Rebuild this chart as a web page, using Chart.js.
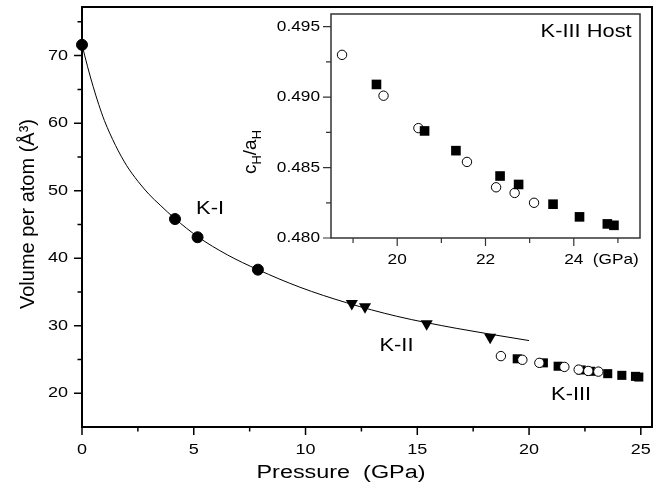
<!DOCTYPE html>
<html>
<head>
<meta charset="utf-8">
<script src="https://cdn.jsdelivr.net/npm/chart.js@4.4.1/dist/chart.umd.min.js"></script>
<style>
  body { margin: 0; background: #fff; }
  #wrap { position: relative; width: 670px; height: 495px; }
  #mainChart { position: absolute; left: 0; top: 0; }
  #insetChart { position: absolute; left: 240px; top: 0; }
</style>
</head>
<body>
<div id="wrap">
  <canvas id="mainChart" width="670" height="495"></canvas>
  <canvas id="insetChart" width="410" height="280"></canvas>
</div>
<script>
// ---- main panel: volume per atom vs pressure ----
const kIPressure = [0, 4.16, 5.17, 7.87];
const kIVolume = [71.6, 45.8, 43.1, 38.3];

const kIIPressure = [12.07, 12.66, 15.42, 18.26];
const kIIVolume = [33.3, 32.8, 30.3, 28.3];

const kIIIOpenPressure = [18.74, 19.70, 20.46, 21.58, 22.22, 22.65, 23.10];
const kIIIOpenVolume = [25.5, 24.95, 24.5, 23.9, 23.5, 23.3, 23.2];

const kIIISquarePressure = [19.47, 20.64, 21.30, 22.33, 22.75, 23.52, 24.15, 24.76, 24.91];
const kIIISquareVolume = [25.1, 24.5, 24.0, 23.45, 23.25, 22.9, 22.65, 22.5, 22.4];

// fit curve
const fitPressure = [0, 0.25, 0.5, 0.75, 1.0, 1.5, 2.0, 2.5, 3.0, 3.5, 4.16, 5.17, 6.5, 7.87, 9.75, 11.84, 14.08, 16.77, 20.0];
const fitVolume = [71.6, 68.35, 65.4, 62.75, 60.4, 56.7, 53.7, 51.4, 49.45, 47.85, 45.85, 43.2, 40.5, 38.3, 35.7, 33.4, 31.4, 29.6, 27.8];

const mainXMajor = [0, 5, 10, 15, 20, 25];
const mainXLabels = ['0', '5', '10', '15', '20', '25'];
const mainXMinor = [2.5, 7.5, 12.5, 17.5, 22.5];
const mainYMajor = [20, 30, 40, 50, 60, 70];
const mainYLabels = ['20', '30', '40', '50', '60', '70'];
const mainYMinor = [25, 35, 45, 55, 65, 75];

const phaseLabels = ['K-I', 'K-II', 'K-III'];
const phaseLabelPressure = [5.73, 14.07, 21.88];
const phaseLabelVolume = [47.3, 26.96, 19.73];

// ---- inset: c/a of K-III host ----
const insetOpenPressure = [18.75, 19.69, 20.48, 21.58, 22.24, 22.66, 23.10];
const insetOpenRatio = [0.4930, 0.4901, 0.4878, 0.4854, 0.4836, 0.4832, 0.4825];
const insetSquarePressure = [19.53, 20.62, 21.33, 22.33, 22.75, 23.53, 24.13, 24.76, 24.91];
const insetSquareRatio = [0.4909, 0.4876, 0.4862, 0.4844, 0.4838, 0.4824, 0.4815, 0.4810, 0.4809];

const insetXMajor = [20, 22, 24];
const insetXLabels = ['20', '22', '24'];
const insetXMinor = [19, 21, 23, 25];
const insetYMajor = [0.480, 0.485, 0.490, 0.495];
const insetYLabels = ['0.480', '0.485', '0.490', '0.495'];
const insetYMinor = [0.4825, 0.4875, 0.4925];

const FONT = '"Liberation Sans", Arial, sans-serif';

function pts(xs, ys) {
    return xs.map((x, i) => ({ x: x, y: ys[i] }));
}

function drawText(ctx, text, x, y, size, align, sx) {
    ctx.save();
    ctx.translate(x, y);
    ctx.scale(sx || 1, 1);
    ctx.font = size + 'px ' + FONT;
    ctx.textAlign = align;
    ctx.textBaseline = 'middle';
    ctx.fillStyle = '#000';
    ctx.fillText(text, 0, 0);
    ctx.restore();
}

// frame, outward ticks and tick labels for one chart
function axisDecor(cfg) {
    return {
        id: 'axisDecor',
        afterDraw(chart) {
            const ctx = chart.ctx;
            const a = chart.chartArea;
            const xs = chart.scales.x, ys = chart.scales.y;
            ctx.save();
            ctx.strokeStyle = cfg.lineColor;
            ctx.lineWidth = cfg.frameWidth;
            ctx.strokeRect(a.left, a.top, a.right - a.left, a.bottom - a.top);

            ctx.lineWidth = cfg.tickWidth;
            ctx.beginPath();
            const xTick = (v, len) => {
                const px = xs.getPixelForValue(v);
                ctx.moveTo(px, a.bottom);
                ctx.lineTo(px, a.bottom + len);
            };
            const yTick = (v, len) => {
                const py = ys.getPixelForValue(v);
                ctx.moveTo(a.left, py);
                ctx.lineTo(a.left - len, py);
            };
            cfg.xMajor.forEach(v => xTick(v, cfg.majorLen));
            cfg.xMinor.forEach(v => xTick(v, cfg.minorLen));
            cfg.yMajor.forEach(v => yTick(v, cfg.majorLen));
            cfg.yMinor.forEach(v => yTick(v, cfg.minorLen));
            ctx.stroke();

            cfg.xMajor.forEach((v, i) => drawText(ctx, cfg.xLabels[i], xs.getPixelForValue(v),
                a.bottom + cfg.xLabelGap, cfg.tickSize, 'center', cfg.stretch));
            cfg.yMajor.forEach((v, i) => drawText(ctx, cfg.yLabels[i], a.left - cfg.yLabelGap,
                ys.getPixelForValue(v), cfg.tickSize, 'right', cfg.stretch));

            if (cfg.extra) cfg.extra(chart);
            ctx.restore();
        }
    };
}

function fixedScale(min, max, size, isX) {
    return {
        type: 'linear',
        min: min,
        max: max,
        grid: { display: false, drawTicks: false },
        border: { display: false },
        ticks: { display: false },
        afterFit: function (scale) {
            if (isX) scale.height = size; else scale.width = size;
        }
    };
}

const baseOptions = {
    responsive: false,
    animation: false,
    events: [],
    plugins: { legend: { display: false }, tooltip: { enabled: false } }
};

// ---------- main chart ----------
new Chart(document.getElementById('mainChart').getContext('2d'), {
    type: 'scatter',
    data: {
        datasets: [
            {
                data: pts(fitPressure, fitVolume),
                showLine: true,
                borderColor: '#000',
                borderWidth: 1,
                pointRadius: 0,
                cubicInterpolationMode: 'monotone',
                order: 5
            },
            {
                data: pts(kIIISquarePressure, kIIISquareVolume),
                pointStyle: 'rect',
                pointRadius: 6.4,
                backgroundColor: '#000',
                borderColor: '#000',
                borderWidth: 0,
                order: 3,
                clip: false
            },
            {
                data: pts(kIIIOpenPressure, kIIIOpenVolume),
                pointStyle: 'circle',
                pointRadius: 4.7,
                backgroundColor: '#fff',
                borderColor: '#000',
                borderWidth: 1,
                order: 2,
                clip: false
            },
            {
                data: pts(kIPressure, kIVolume),
                pointStyle: 'circle',
                pointRadius: 5.5,
                backgroundColor: '#000',
                borderColor: '#000',
                borderWidth: 1,
                order: 1,
                clip: false
            },
            {
                data: pts(kIIPressure, kIIVolume),
                pointStyle: 'triangle',
                rotation: 180,
                pointRadius: 7,
                backgroundColor: '#000',
                borderColor: '#000',
                borderWidth: 0,
                order: 1,
                clip: false
            }
        ]
    },
    options: Object.assign({}, baseOptions, {
        layout: { padding: { top: 5, right: 18, left: 0, bottom: 0 } },
        scales: {
            x: fixedScale(0, 25.5, 68, true),
            y: fixedScale(15, 77.2, 82, false)
        }
    }),
    plugins: [axisDecor({
        lineColor: '#000', frameWidth: 2, tickWidth: 1.5,
        majorLen: 8, minorLen: 4.5,
        xMajor: mainXMajor, xMinor: mainXMinor, xLabels: mainXLabels,
        yMajor: mainYMajor, yMinor: mainYMinor, yLabels: mainYLabels,
        xLabelGap: 23, yLabelGap: 14, tickSize: 15, stretch: 1.2,
        extra: function (chart) {
            const ctx = chart.ctx;
            const xs = chart.scales.x, ys = chart.scales.y;
            phaseLabels.forEach((t, i) => drawText(ctx, t, xs.getPixelForValue(phaseLabelPressure[i]),
                ys.getPixelForValue(phaseLabelVolume[i]), 19, 'center', 1.15));
            drawText(ctx, 'Pressure  (GPa)', 341, 473, 18, 'center', 1.3);
            ctx.save();
            ctx.translate(28, 214);
            ctx.rotate(-Math.PI / 2);
            drawText(ctx, 'Volume per atom (Å³)', 0, 0, 20, 'center', 1);
            ctx.restore();
        }
    })]
});

// ---------- inset chart ----------
new Chart(document.getElementById('insetChart').getContext('2d'), {
    type: 'scatter',
    data: {
        datasets: [
            {
                data: pts(insetOpenPressure, insetOpenRatio),
                pointStyle: 'circle',
                pointRadius: 4.7,
                backgroundColor: '#fff',
                borderColor: '#000',
                borderWidth: 1,
                order: 2,
                clip: false
            },
            {
                data: pts(insetSquarePressure, insetSquareRatio),
                pointStyle: 'rect',
                pointRadius: 6.8,
                backgroundColor: '#000',
                borderColor: '#000',
                borderWidth: 0,
                order: 1,
                clip: false
            }
        ]
    },
    options: Object.assign({}, baseOptions, {
        layout: { padding: { top: 14, right: 10, left: 0, bottom: 0 } },
        scales: {
            x: fixedScale(18.5, 25.5, 42, true),
            y: fixedScale(0.480, 0.4959, 91, false)
        }
    }),
    plugins: [axisDecor({
        lineColor: '#333', frameWidth: 1.5, tickWidth: 1.2,
        majorLen: 8, minorLen: 5,
        xMajor: insetXMajor, xMinor: insetXMinor, xLabels: insetXLabels,
        yMajor: insetYMajor, yMinor: insetYMinor, yLabels: insetYLabels,
        xLabelGap: 22, yLabelGap: 11, tickSize: 15, stretch: 1.15,
        extra: function (chart) {
            const ctx = chart.ctx;
            const xs = chart.scales.x, ys = chart.scales.y;
            const a = chart.chartArea;
            drawText(ctx, 'K-III Host', xs.getPixelForValue(24.28), ys.getPixelForValue(0.49463), 19, 'center', 1.15);
            drawText(ctx, '(GPa)', xs.getPixelForValue(24) + 19, a.bottom + 22, 15, 'left', 1.15);
            // c_H / a_H, rotated
            ctx.save();
            ctx.translate(11, 152);
            ctx.rotate(-Math.PI / 2);
            ctx.fillStyle = '#000';
            ctx.textBaseline = 'middle';
            ctx.textAlign = 'left';
            const big = '19px ' + FONT, small = '13px ' + FONT;
            const parts = [['c', big, 0], ['H', small, 6], ['/a', big, 0], ['H', small, 6]];
            let total = 0;
            parts.forEach(p => { ctx.font = p[1]; total += ctx.measureText(p[0]).width; });
            let cx = -total / 2;
            parts.forEach(p => {
                ctx.font = p[1];
                ctx.fillText(p[0], cx, p[2]);
                cx += ctx.measureText(p[0]).width;
            });
            ctx.restore();
        }
    })]
});
</script>
</body>
</html>
